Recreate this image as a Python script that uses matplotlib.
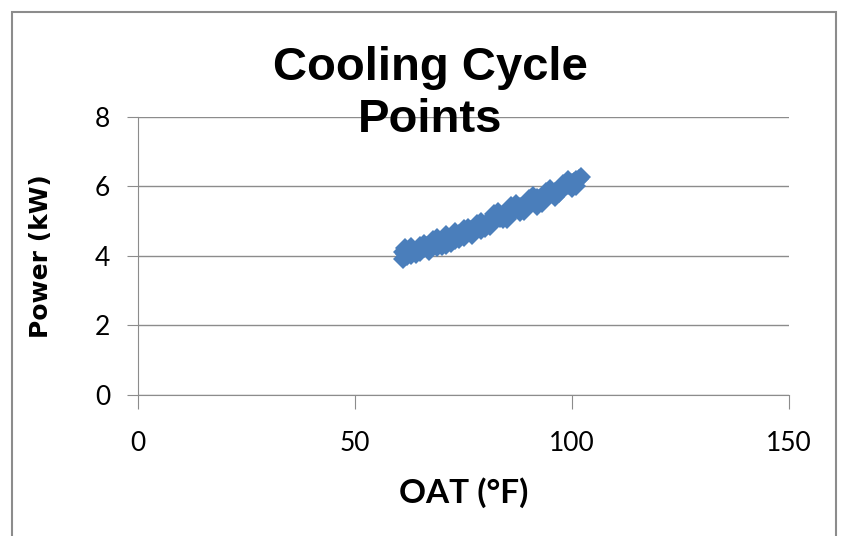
import matplotlib.pyplot as plt
from matplotlib.patches import Rectangle

# cooling cycle points
oat = [61, 61.5, 62, 62.5, 63, 63.5, 64, 64.5, 65, 65.5, 66, 66.5, 67, 67.5, 68,
       68.5, 69, 69.5, 70, 70.5, 71, 71.5, 72, 72.5, 73, 73.5, 74, 74.5, 75, 75.5,
       76, 76.5, 77, 77.5, 78, 78.5, 79, 79.5, 80, 80.5, 81, 81.5, 82, 82.5, 83,
       83.5, 84, 84.5, 85, 85.5, 86, 86.5, 87, 87.5, 88, 88.5, 89, 89.5, 90, 90.5,
       91, 91.5, 92, 92.5, 93, 93.5, 94, 94.5, 95, 95.5, 96, 96.5, 97, 97.5, 98,
       98.5, 99, 99.5, 100, 100.5, 101, 101.5, 102,
       61, 62, 63, 64, 65, 66, 67, 68, 69, 70, 71, 72, 73, 74, 75, 76, 77, 78, 79,
       80, 82, 84, 86, 88, 90, 92, 94, 96, 98, 100,
       61.5, 63, 65, 67, 69, 71, 73, 75, 77, 79, 81, 83, 85, 87, 89, 91, 93, 95, 97, 99, 101]
power = [4.10, 4.05, 4.15, 4.12, 4.18, 4.10, 4.15, 4.20, 4.17, 4.25, 4.22, 4.30, 4.28, 4.35,
         4.33, 4.38, 4.40, 4.36, 4.45, 4.48, 4.42, 4.50, 4.55, 4.52, 4.58, 4.55, 4.62, 4.60,
         4.66, 4.70, 4.68, 4.74, 4.72, 4.78, 4.80, 4.85, 4.82, 4.90, 4.88, 4.95, 4.98, 5.02,
         5.00, 5.08, 5.12, 5.10, 5.18, 5.15, 5.22, 5.25, 5.30, 5.28, 5.35, 5.38, 5.42, 5.40,
         5.47, 5.50, 5.52, 5.58, 5.55, 5.62, 5.66, 5.64, 5.70, 5.72, 5.75, 5.78, 5.80, 5.82,
         5.85, 5.88, 5.92, 5.95, 5.98, 6.00, 6.04, 6.08, 6.10, 6.14, 6.18, 6.22, 6.28,
         3.92, 4.00, 4.25, 4.05, 4.10, 4.35, 4.15, 4.45, 4.25, 4.30, 4.60, 4.38, 4.68, 4.48,
         4.55, 4.80, 4.62, 4.92, 4.75, 4.80, 5.20, 5.05, 5.45, 5.25, 5.65, 5.45, 5.85, 5.70,
         6.08, 5.95,
         4.22, 4.02, 4.30, 4.18, 4.52, 4.32, 4.45, 4.78, 4.60, 4.98, 4.85, 5.25, 5.05, 5.48,
         5.28, 5.72, 5.52, 5.92, 5.80, 6.18, 6.02]

fig = plt.figure(figsize=(8.42, 5.36), dpi=100)
ax = fig.add_axes([0.164, 0.263, 0.773, 0.519])

# outer chart border
fig.patches.append(Rectangle((12/842, -0.05), 824/842, 1.05 - 12/536, transform=fig.transFigure,
                             fill=False, edgecolor='#8c8c8c', linewidth=1.5))

ax.plot(oat, power, 'D', color='#4a7ebb', markersize=10.5, markeredgewidth=0)

ax.set_xlim(0, 150)
ax.set_ylim(0, 8)
ax.set_xticks([0, 50, 100, 150])
ax.set_yticks([0, 2, 4, 6, 8])
ax.grid(axis='y', color='#8c8c8c', linewidth=1)
ax.set_axisbelow(True)
for s in ['top', 'right']:
    ax.spines[s].set_visible(False)
ax.spines['left'].set_color('#8c8c8c')
ax.spines['bottom'].set_color('#8c8c8c')
ax.tick_params(axis='x', length=10, color='#8c8c8c', pad=16, labelsize=19)
ax.tick_params(axis='y', length=8, color='#8c8c8c', pad=12, labelsize=19)
for lab in ax.get_xticklabels() + ax.get_yticklabels():
    lab.set_fontfamily(['Lato', 'DejaVu Sans'])

ax.set_xlabel('OAT (°F)', fontsize=24, fontweight='bold', family=['Lato', 'DejaVu Sans'], labelpad=15)
ax.set_ylabel('Power (kW)', fontsize=18, fontweight='bold', family=['DejaVu Sans'], labelpad=30)

fig.text(430/842, 1 - 94/536, 'Cooling Cycle\nPoints', ha='center', va='center',
         fontsize=34, fontweight='bold', family=['Liberation Sans', 'DejaVu Sans'], linespacing=1.22)

fig.savefig('out.png')
